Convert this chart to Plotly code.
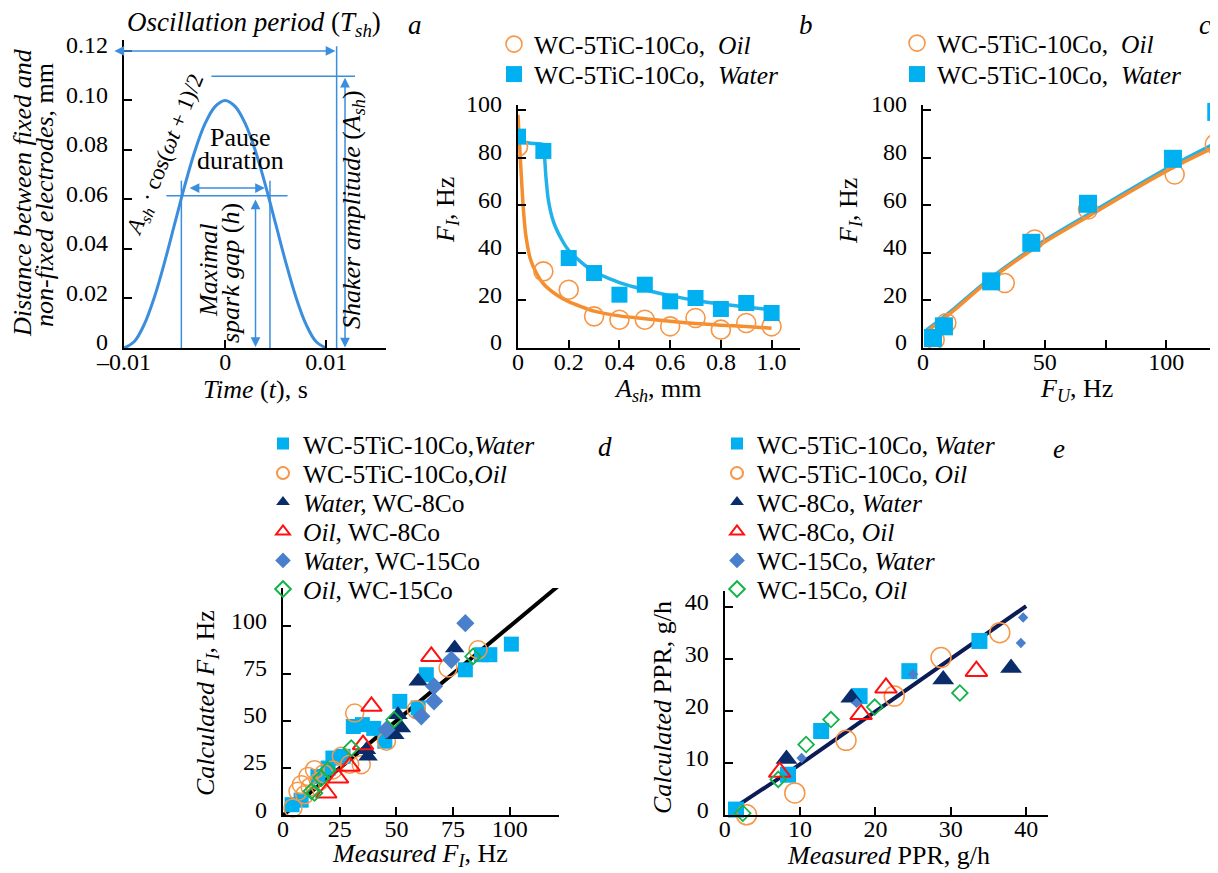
import plotly.graph_objects as go

W, H = 1218, 873
FONT = "Liberation Serif"
BLUE_A = "#3b8ede"
SQ = "#00b0f0"
OR = "#f79646"
ORL = "#f58e2f"
BLL = "#22b2ea"
NAVY = "#0b2c6a"
RED = "#ff1010"
DIA = "#4a7fcb"
GRN = "#12b44a"

def px(x):
    return x / W

def py(y):
    return 1 - y / H

# ---------------- panel a data ----------------
a_t = [-0.010, -0.009, -0.008, -0.007, -0.006, -0.005, -0.004, -0.003, -0.002, -0.001, 0.0,
       0.001, 0.002, 0.003, 0.004, 0.005, 0.006, 0.007, 0.008, 0.009, 0.010]
a_gap = [0.0, 0.0025, 0.0095, 0.0205, 0.0345, 0.050, 0.0655, 0.0795, 0.0905, 0.0975, 0.100,
         0.0975, 0.0905, 0.0795, 0.0655, 0.050, 0.0345, 0.0205, 0.0095, 0.0025, 0.0]
a_yticks = [0, 0.02, 0.04, 0.06, 0.08, 0.10, 0.12]
a_ytext = ["0", "0.02", "0.04", "0.06", "0.08", "0.10", "0.12"]
a_xticks = [-0.01, 0, 0.01]
a_xtext = ["\u20130.01", "0", "0.01"]

# ---------------- panel b data ----------------
b_x = [0, 0.1, 0.2, 0.3, 0.4, 0.5, 0.6, 0.7, 0.8, 0.9, 1.0]
b_water = [88.8, 82.8, 37.8, 31.5, 22.4, 26.6, 19.6, 21.0, 16.4, 18.9, 14.7]
b_oil = [84.6, 32.2, 24.5, 13.3, 11.9, 11.9, 9.1, 12.6, 7.7, 10.5, 9.1]
b_fitw_x = [0, 0.05, 0.1, 0.105, 0.11, 0.12, 0.14, 0.17, 0.2, 0.25, 0.3, 0.4, 0.5, 0.6, 0.7, 0.8, 0.9, 1.0]
b_fitw_y = [87, 86, 85.4, 80, 72, 62, 53, 46, 41, 36, 32, 27.5, 24.5, 22, 20, 18.5, 17.2, 16]
b_fito_x = [0, 0.01, 0.02, 0.03, 0.05, 0.075, 0.1, 0.15, 0.2, 0.3, 0.4, 0.5, 0.6, 0.7, 0.8, 0.9, 1.0]
b_fito_y = [98, 78, 60, 48, 37, 31, 27, 22.5, 19.5, 15.5, 13.5, 12.3, 11.2, 10.3, 9.6, 9.0, 8.3]

# ---------------- panel c data ----------------
c_water_x = [4.1, 8.6, 28, 44.5, 67.8, 102.7, 120.5]
c_water_y = [4.2, 9.1, 28, 44.2, 60.6, 79.5, 99.2]
c_oil_x = [4.8, 9.6, 33.6, 45.9, 67.8, 103.4, 119.9]
c_oil_y = [3.5, 10.5, 27.3, 45.6, 58.2, 72.9, 85.6]
c_fit_x = [1.5, 10, 28, 46, 68, 100, 120]
c_fitw_y = [7.6, 14.2, 29.6, 42.6, 56.2, 75.3, 86.0]
c_fito_y = [7.0, 13.5, 29.0, 42.0, 55.4, 74.3, 84.5]

# ---------------- panel d data ----------------
d_w5_x = [4, 8, 15.4, 19.9, 22, 26.5, 31, 35, 40, 44.9, 51.5, 59.6, 63.2, 80.4, 87.5, 91.2, 100.7]
d_w5_y = [5.6, 8, 20.6, 25, 30.3, 31.2, 47, 48, 46, 39.2, 60.3, 56.8, 74.4, 77, 85, 85, 90.6]
d_o5_x = [4.4, 6.6, 8.1, 9.6, 11, 12, 13.9, 16, 18, 22, 25.7, 29.4, 31.6, 34.5, 45.6, 58.8, 72.8, 86]
d_o5_y = [3.9, 12.7, 16.2, 10.9, 20.6, 15, 24.1, 18, 22, 24, 31.2, 27, 54.1, 26.8, 39.2, 55.9, 77.9, 87.6]
d_w8_x = [36.8, 37.5, 49.3, 50.7, 52.2, 59.6, 75.7]
d_w8_y = [34.7, 31.2, 42.6, 53.2, 46.2, 70.9, 88.5]
d_o8_x = [19.1, 24.3, 29.4, 35.3, 39, 65.4]
d_o8_y = [11.8, 19.7, 25.9, 37.4, 57.7, 84.1]
d_w15_x = [45.6, 61, 66.6, 66.6, 74.2, 80.4]
d_w15_y = [45.3, 52.4, 60.3, 68.3, 82.3, 101.7]
d_o15_x = [12.5, 13.9, 16.9, 19.8, 30.1, 49, 83.8]
d_o15_y = [12.7, 11.8, 19.7, 24.1, 35.6, 50.6, 84.1]
d_fit = [0, 122]

# ---------------- panel e data ----------------
e_w5_x = [1.5, 8.4, 12.8, 17.9, 24.5, 33.8]
e_w5_y = [1.1, 7.8, 16.2, 22.9, 27.7, 33.5]
e_o5_x = [2.9, 9.3, 16.1, 22.5, 28.7, 36.5]
e_o5_y = [0.1, 4.3, 14.4, 22.9, 30.3, 35.1]
e_w8_x = [0.7, 8.2, 16.8, 29.0, 38.0]
e_w8_y = [-0.3, 10.8, 22.6, 26.1, 28.3]
e_o8_x = [3.3, 7.3, 18.1, 21.4, 33.4]
e_o8_y = [-0.4, 8.3, 19.4, 24.5, 27.7]
e_w15_x = [10.2, 17.5, 25.0, 39.6, 39.3]
e_w15_y = [11.0, 21.6, 27.1, 38.0, 33.1]
e_o15_x = [2.4, 7.1, 10.8, 14.1, 19.9, 31.2]
e_o15_y = [0.4, 6.9, 13.6, 18.4, 20.8, 23.5]
e_fit_x = [0.6, 9.3, 40.0]
e_fit_y = [0.8, 9.1, 40.2]

fig = go.Figure()
legends = {}
leg_count = [0]

def new_legend(text_left, row_y, size, sizing="trace"):
    leg_count[0] += 1
    name = "legend" if leg_count[0] == 1 else "legend%d" % leg_count[0]
    legends[name] = dict(x=px(text_left - 49), y=py(row_y - 9.5), xanchor="left", yanchor="middle",
                         bgcolor="rgba(0,0,0,0)", borderwidth=0, itemsizing=sizing,
                         font=dict(family=FONT, size=size, color="black"),
                         itemclick=False, itemdoubleclick=False)
    return name

# panel a
fig.add_trace(go.Scatter(x=a_t, y=a_gap, mode="lines", line=dict(color=BLUE_A, width=3, shape="spline"),
                         xaxis="x", yaxis="y", showlegend=False))

# panel b
fig.add_trace(go.Scatter(x=b_fito_x, y=b_fito_y, mode="lines", line=dict(color=ORL, width=3.5, shape="spline", smoothing=0.6),
                         xaxis="x2", yaxis="y2", showlegend=False))
fig.add_trace(go.Scatter(x=b_fitw_x, y=b_fitw_y, mode="lines", line=dict(color=BLL, width=3.5, shape="spline", smoothing=0.6),
                         xaxis="x2", yaxis="y2", showlegend=False))
fig.add_trace(go.Scatter(x=b_x, y=b_oil, mode="markers", name="WC-5TiC-10Co,  <i>Oil</i>",
                         marker=dict(symbol="circle-open", size=19, color=OR, line=dict(width=1.6, color=OR)),
                         xaxis="x2", yaxis="y2", legend=new_legend(535, 46, 25.5)))
fig.add_trace(go.Scatter(x=b_x, y=b_water, mode="markers", name="WC-5TiC-10Co,  <i>Water</i>",
                         marker=dict(symbol="square", size=16, color=SQ),
                         xaxis="x2", yaxis="y2", legend=new_legend(535, 76, 25.5)))

# panel c
fig.add_trace(go.Scatter(x=c_fit_x, y=c_fitw_y, mode="lines", line=dict(color=BLL, width=3.5, shape="spline"),
                         xaxis="x3", yaxis="y3", showlegend=False))
fig.add_trace(go.Scatter(x=c_fit_x, y=c_fito_y, mode="lines", line=dict(color=ORL, width=3.5, shape="spline"),
                         xaxis="x3", yaxis="y3", showlegend=False))
fig.add_trace(go.Scatter(x=c_oil_x, y=c_oil_y, mode="markers", name="WC-5TiC-10Co,  <i>Oil</i>",
                         marker=dict(symbol="circle-open", size=19, color=OR, line=dict(width=1.6, color=OR)),
                         xaxis="x3", yaxis="y3", legend=new_legend(938, 45, 25.5), cliponaxis=False))
fig.add_trace(go.Scatter(x=c_water_x, y=c_water_y, mode="markers", name="WC-5TiC-10Co,  <i>Water</i>",
                         marker=dict(symbol="square", size=18, color=SQ),
                         xaxis="x3", yaxis="y3", legend=new_legend(938, 76, 25.5), cliponaxis=False))

# panel d
fig.add_trace(go.Scatter(x=d_fit, y=d_fit, mode="lines", line=dict(color="black", width=4),
                         xaxis="x4", yaxis="y4", showlegend=False))
rows = [445.5, 475, 504, 533.3, 562.3, 591]
d_series = [
    (d_w5_x, d_w5_y, "WC-5TiC-10Co,<i>Water</i>", dict(symbol="square", size=15, color=SQ)),
    (d_o5_x, d_o5_y, "WC-5TiC-10Co,<i>Oil</i>", dict(symbol="circle-open", size=18, color=OR, line=dict(width=1.5, color=OR))),
    (d_w8_x, d_w8_y, "<i>Water,</i> WC-8Co", dict(symbol="triangle-up", size=17, color=NAVY)),
    (d_o8_x, d_o8_y, "<i>Oil</i>, WC-8Co", dict(symbol="triangle-up-open", size=18, color=RED, line=dict(width=2, color=RED))),
    (d_w15_x, d_w15_y, "<i>Water</i>, WC-15Co", dict(symbol="diamond", size=14, color=DIA)),
    (d_o15_x, d_o15_y, "<i>Oil</i>, WC-15Co", dict(symbol="diamond-open", size=12, color=GRN, line=dict(width=1.8, color=GRN))),
]
for i, (xs, ys, nm, mk) in enumerate(d_series):
    fig.add_trace(go.Scatter(x=xs, y=ys, mode="markers", name=nm, marker=mk,
                             xaxis="x4", yaxis="y4", legend=new_legend(304, rows[i], 25.5, "constant"),
                             cliponaxis=False))

# panel e
fig.add_trace(go.Scatter(x=e_fit_x, y=e_fit_y, mode="lines", line=dict(color="#0c1a55", width=4),
                         xaxis="x5", yaxis="y5", showlegend=False))
e_series = [
    (e_w5_x, e_w5_y, "WC-5TiC-10Co, <i>Water</i>", dict(symbol="square", size=16, color=SQ)),
    (e_o5_x, e_o5_y, "WC-5TiC-10Co, <i>Oil</i>", dict(symbol="circle-open", size=20, color=OR, line=dict(width=1.5, color=OR))),
    (e_w8_x, e_w8_y, "WC-8Co, <i>Water</i>", dict(symbol="triangle-up", size=19, color=NAVY)),
    (e_o8_x, e_o8_y, "WC-8Co, <i>Oil</i>", dict(symbol="triangle-up-open", size=19, color=RED, line=dict(width=2, color=RED))),
    (e_w15_x, e_w15_y, "WC-15Co, <i>Water</i>", dict(symbol="diamond", size=8, color=DIA)),
    (e_o15_x, e_o15_y, "WC-15Co, <i>Oil</i>", dict(symbol="diamond-open", size=12, color=GRN, line=dict(width=1.8, color=GRN))),
]
for i, (xs, ys, nm, mk) in enumerate(e_series):
    fig.add_trace(go.Scatter(x=xs, y=ys, mode="markers", name=nm, marker=mk,
                             xaxis="x5", yaxis="y5", legend=new_legend(758, rows[i], 25.5, "constant"),
                             cliponaxis=False))

tickfont = dict(family=FONT, size=24, color="black")

def axstyle(letter, **kw):
    d = dict(showline=True, linecolor="black", linewidth=2.2, ticks="inside", ticklen=8, tickwidth=2,
             tickcolor="black", showgrid=False, zeroline=False, tickfont=tickfont, fixedrange=True,
             automargin=False, ticklabelstandoff=(-9 if letter == "x" else 9),
             ticklabelshift=(0 if letter == "x" else -6))
    d.update(kw)
    return d

fig.update_layout(
    width=W, height=H, template="none",
    margin=dict(l=0, r=0, t=0, b=0),
    paper_bgcolor="white", plot_bgcolor="rgba(0,0,0,0)",
    font=dict(family=FONT, size=24, color="black"),
    xaxis=axstyle("x", domain=[px(116), px(378)], range=[-0.01, 0.0159], anchor="y",
                  tickvals=a_xticks, ticktext=a_xtext),
    yaxis=axstyle("y", domain=[py(340), py(32)], range=[0, 0.1244], anchor="x",
                  tickvals=a_yticks, ticktext=a_ytext),
    xaxis2=axstyle("x", domain=[px(510), px(792)], range=[0, 1.112], anchor="y2",
                   tickvals=[0, 0.2, 0.4, 0.6, 0.8, 1.0], ticktext=["0", "0.2", "0.4", "0.6", "0.8", "1.0"]),
    yaxis2=axstyle("y", domain=[py(340), py(97)], range=[0, 102.1], anchor="x2",
                   tickvals=[0, 20, 40, 60, 80, 100]),
    xaxis3=axstyle("x", domain=[px(915), 1.0], range=[0, 124.5], anchor="y3",
                   tickvals=[0, 25, 50, 75, 100], ticktext=["0", "", "50", "", "100"]),
    yaxis3=axstyle("y", domain=[py(340), py(97)], range=[0, 102.1], anchor="x3",
                   tickvals=[0, 20, 40, 60, 80, 100]),
    xaxis4=axstyle("x", domain=[px(275), px(551)], range=[0, 121.7], anchor="y4",
                   tickvals=[0, 25, 50, 75, 100]),
    yaxis4=axstyle("y", domain=[py(807.3), py(580)], range=[0, 120.3], anchor="x4",
                   tickvals=[0, 25, 50, 75, 100]),
    xaxis5=axstyle("x", domain=[px(716.7), px(1040)], range=[0, 42.9], anchor="y5",
                   tickvals=[0, 10, 20, 30, 40]),
    yaxis5=axstyle("y", domain=[py(807.3), py(583)], range=[0, 43.1], anchor="x5",
                   tickvals=[0, 10, 20, 30, 40]),
    **legends,
)

# ---- panel a guide lines & arrows ----
guide_lines = [
    (0.01102, 0.0, 0.01102, 0.1219),
    (-0.00136, 0.1098, 0.01284, 0.1098),
    (-0.00581, 0.0615, 0.00617, 0.0615),
    (-0.00433, 0.0, -0.00433, 0.0676),
    (0.00443, 0.0, 0.00443, 0.0676),
]
shapes = []
for x0, y0, x1, y1 in guide_lines:
    shapes.append(dict(type="line", xref="x", yref="y", x0=x0, y0=y0, x1=x1, y1=y1,
                       line=dict(color=BLUE_A, width=1.5)))
fig.update_layout(shapes=shapes)

guide_arrows = [
    (-0.0111, 0.12, 0.0109, 0.12),
    (0.01185, 0.1098, 0.01185, 0.0002),
    (-0.00366, 0.0646, 0.00393, 0.0646),
    (0.0030, 0.0606, 0.0030, 0.0004),
]
ann = []
for x0, y0, x1, y1 in guide_arrows:
    ann.append(dict(x=x1, y=y1, ax=x0, ay=y0, xref="x", yref="y", axref="x", ayref="y",
                    text="", showarrow=True, arrowhead=2, arrowside="end+start",
                    arrowsize=1.3, arrowwidth=1.5, arrowcolor=BLUE_A, standoff=0, startstandoff=0))

OFF = 8  # render offset of annotation glyphs along the text's local "down" direction

def txt(x, y, text, size=26, angle=0):
    if angle == -90:
        x = x - OFF
    elif angle == 0:
        y = y - OFF
    else:
        x = x - 7
        y = y - 3
    ann.append(dict(x=px(x), y=py(y), xref="paper", yref="paper", text=text, showarrow=False,
                    textangle=angle, xanchor="center", yanchor="middle",
                    font=dict(family=FONT, size=size, color="black")))

# panel a texts
txt(246, 24, "<i>Oscillation period</i> (<i>T<sub>sh</sub></i>)", 27)
txt(407, 25, "<i>a</i>", 27)
txt(165, 150, "<i>A<sub>sh</sub></i> \u00b7 cos(<i>\u03c9t</i> + 1)/2", 23, -68)
txt(232, 137, "Pause", 26)
txt(232, 160, "duration", 26)
txt(208, 263, "<i>Maximal</i>", 26, -90)
txt(230, 265, "<i>spark gap</i> (<i>h</i>)", 26, -90)
txt(353, 202, "<i>Shaker amplitude</i> (<i>A<sub>sh</sub></i>)", 26, -90)
txt(22, 185, "<i>Distance between fixed and</i>", 26, -90)
txt(44, 187, "<i>non-fixed electrodes</i>, mm", 26, -90)
txt(247, 389, "<i>Time</i> (<i>t</i>), s", 26)

# panel b texts
txt(798, 25, "<i>b</i>", 27)
txt(447, 202, "<i>F<sub>I</sub></i>, Hz", 26, -90)
txt(650, 390, "<i>A<sub>sh</sub></i>, mm", 26)

# panel c texts
txt(1197, 25, "<i>c</i>", 27)
txt(850, 203, "<i>F<sub>I</sub></i>, Hz", 26, -90)
txt(1068, 390, "<i>F<sub>U</sub></i>, Hz", 26)

# panel d texts
txt(597, 447, "<i>d</i>", 27)
txt(207, 695, "<i>Calculated F<sub>I</sub></i>, Hz", 26, -90)
txt(412, 855, "<i>Measured F<sub>I</sub></i>, Hz", 26)

# panel e texts
txt(1051, 449, "<i>e</i>", 27)
txt(662, 700, "<i>Calculated</i> PPR, g/h", 26, -90)
txt(880, 855, "<i>Measured</i> PPR, g/h", 26)

fig.update_layout(annotations=ann)

fig.write_html("out.html")
